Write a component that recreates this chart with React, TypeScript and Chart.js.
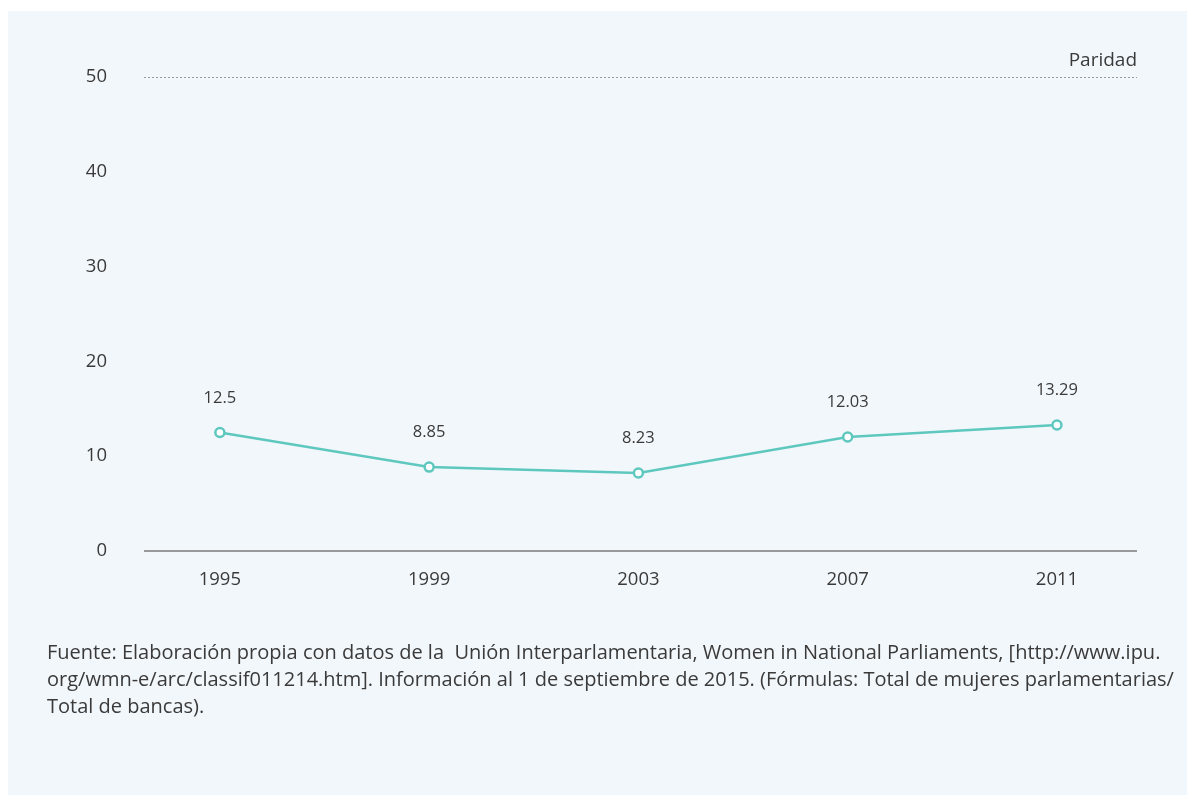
import React, { useEffect, useRef } from "react";
import { Chart, registerables } from "chart.js";

Chart.register(...registerables);

const years: number[] = [1995, 1999, 2003, 2007, 2011];
const values: number[] = [12.5, 8.85, 8.23, 12.03, 13.29];
const valueLabels: string[] = ["12.5", "8.85", "8.23", "12.03", "13.29"];
const yTicks: number[] = [0, 10, 20, 30, 40, 50];
const parityValue = 50;
const parityLabel = "Paridad";
const footLines: string[] = [
  "Fuente: Elaboración propia con datos de la  Unión Interparlamentaria, Women in National Parliaments, [http://www.ipu.",
  "org/wmn-e/arc/classif011214.htm]. Información al 1 de septiembre de 2015. (Fórmulas: Total de mujeres parlamentarias/",
  "Total de bancas).",
];

const FONT = "'Open Sans', Lato, sans-serif";
const TEXT = "#3a3a3a";
const TEAL = "#5ec8bf";

const overlay = {
  id: "overlay",
  afterDatasetsDraw(chart: any) {
    const ctx = chart.ctx;
    const y = chart.scales.y;
    const area = chart.chartArea;
    ctx.save();
    const py = Math.round(y.getPixelForValue(parityValue)) + 0.5;
    ctx.strokeStyle = "#9a9a9a";
    ctx.lineWidth = 1;
    ctx.setLineDash([2, 2]);
    ctx.beginPath();
    ctx.moveTo(area.left, py);
    ctx.lineTo(area.right, py);
    ctx.stroke();
    ctx.setLineDash([]);
    ctx.fillStyle = TEXT;
    ctx.font = `19px ${FONT}`;
    ctx.textAlign = "right";
    ctx.textBaseline = "alphabetic";
    ctx.fillText(parityLabel, area.right, py - 12);
    ctx.textAlign = "center";
    ctx.font = `16.5px ${FONT}`;
    const meta = chart.getDatasetMeta(0);
    meta.data.forEach((pt: any, i: number) => {
      ctx.fillText(valueLabels[i], pt.x, pt.y - 30);
    });
    ctx.restore();
  },
  beforeDatasetsDraw(chart: any) {
    const ctx = chart.ctx;
    const y = chart.scales.y;
    const area = chart.chartArea;
    ctx.save();
    const zy = y.getPixelForValue(0);
    ctx.strokeStyle = "#7a7a7a";
    ctx.lineWidth = 1.5;
    ctx.beginPath();
    ctx.moveTo(area.left, zy);
    ctx.lineTo(area.right, zy);
    ctx.stroke();
    ctx.restore();
  },
};

function LineChart() {
  const ref = useRef<HTMLCanvasElement | null>(null);
  useEffect(() => {
    if (!ref.current) return;
    const chart = new Chart(ref.current, {
      type: "line",
      data: {
        datasets: [
          {
            data: years.map((yr, i) => ({ x: yr, y: values[i] })),
            borderColor: TEAL,
            borderWidth: 2.5,
            pointRadius: 4.5,
            pointBorderWidth: 2.5,
            pointBackgroundColor: "#ffffff",
            pointBorderColor: TEAL,
            tension: 0,
            fill: false,
          },
        ],
      },
      options: {
        animation: false,
        responsive: false,
        maintainAspectRatio: false,
        layout: { padding: { top: 66, right: 50, left: 0, bottom: 0 } },
        plugins: { legend: { display: false }, tooltip: { enabled: false } },
        scales: {
          x: {
            type: "linear",
            min: 1993.55,
            max: 2012.53,
            grid: { display: false, drawTicks: false },
            border: { display: false },
            afterBuildTicks: (s: any) => {
              s.ticks = years.map((v) => ({ value: v }));
            },
            afterFit: (s: any) => {
              s.height = 244;
            },
            ticks: {
              autoSkip: false,
              maxRotation: 0,
              padding: 18,
              color: TEXT,
              font: { family: FONT, size: 18.5 },
              callback: (v: any) => String(v),
            },
          },
          y: {
            min: 0,
            max: 50,
            grid: { display: false, drawTicks: false },
            border: { display: false },
            afterBuildTicks: (s: any) => {
              s.ticks = yTicks.map((v) => ({ value: v }));
            },
            afterFit: (s: any) => {
              s.width = 136;
            },
            ticks: {
              padding: 37,
              color: TEXT,
              font: { family: FONT, size: 18.5 },
              callback: (v: any) => String(v),
            },
          },
        },
      },
      plugins: [overlay],
    });
    return () => chart.destroy();
  }, []);
  return <canvas ref={ref} width={1179} height={784} style={{ display: "block" }} />;
}

export default function App() {
  return (
    <div
      style={{
        marginTop: 3,
        width: 1179,
        height: 784,
        background: "#f2f7fb",
        position: "relative",
        overflow: "hidden",
      }}
    >
      <LineChart />
      <div
        style={{
          position: "absolute",
          left: 39,
          top: 627,
          fontFamily: FONT,
          fontSize: 20,
          lineHeight: "27px",
          color: TEXT,
          whiteSpace: "pre",
        }}
      >
        {footLines.map((l, i) => (
          <div key={i}>{l}</div>
        ))}
      </div>
    </div>
  );
}
